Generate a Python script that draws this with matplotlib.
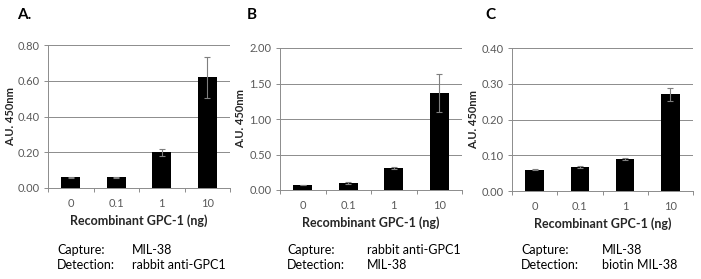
import matplotlib
matplotlib.use("Agg")
import matplotlib.pyplot as plt

plt.rcParams['font.family'] = ['Lato', 'DejaVu Sans']

doses = ["0", "0.1", "1", "10"]

vals_a = [0.06, 0.06, 0.20, 0.62]
err_a = [0.002, 0.003, 0.02, 0.115]
vals_b = [0.07, 0.10, 0.31, 1.37]
err_b = [0.005, 0.01, 0.02, 0.27]
vals_c = [0.06, 0.068, 0.09, 0.27]
err_c = [0.001, 0.003, 0.002, 0.018]

panels = [
    ("A.", vals_a, err_a, 0.80, 0.20, "MIL-38", "rabbit anti-GPC1"),
    ("B", vals_b, err_b, 2.00, 0.50, "rabbit anti-GPC1", "MIL-38"),
    ("C", vals_c, err_c, 0.40, 0.10, "MIL-38", "biotin MIL-38"),
]

# axes boxes in pixels: left, right, top, bottom
boxes = [(48, 230, 45, 188), (280, 462, 48, 190), (512, 693, 48, 191)]
ylab_x = [11, 241, 474]
letter_x = [17, 247, 485]
cap_x = [(57, 132), (287, 367), (521, 602)]

W, H = 701, 279
fig = plt.figure(figsize=(W / 100, H / 100), dpi=100)

grid_c = "#8c8c8c"
text_c = "#595959"

for (letter, vals, errs, ymax, step, capture, detect), (l, r, t, b), yx, lx, (cx, vx) in zip(
        panels, boxes, ylab_x, letter_x, cap_x):
    ax = fig.add_axes([l / W, (H - b) / H, (r - l) / W, (b - t) / H])
    xs = range(len(doses))
    ax.bar(xs, vals, width=0.41, color="black", zorder=3)
    ax.errorbar(xs, vals, yerr=errs, fmt="none", ecolor="#7f7f7f",
                elinewidth=0.8, capsize=2.5, capthick=0.8, zorder=4)
    ax.set_xlim(-0.5, len(doses) - 0.5)
    ax.set_ylim(0, ymax)
    ticks = [i * step for i in range(int(round(ymax / step)) + 1)]
    ax.set_yticks(ticks)
    ax.set_yticklabels([f"{v:.2f}" for v in ticks])
    ax.yaxis.grid(True, color=grid_c, linewidth=0.7, zorder=0)
    ax.set_xticks(list(xs))
    ax.set_xticklabels(doses)
    ax.set_xticks([i - 0.5 for i in range(len(doses) + 1)], minor=True)
    ax.tick_params(axis="x", which="major", length=0, labelsize=8,
                   colors=text_c, pad=7)
    ax.tick_params(axis="x", which="minor", length=3, color=grid_c, width=0.7)
    ax.tick_params(axis="y", length=3, width=0.7, color=grid_c, labelsize=8,
                   labelcolor=text_c, pad=3)
    for s in ["top", "right"]:
        ax.spines[s].set_visible(False)
    ax.spines["left"].set_color(grid_c)
    ax.spines["bottom"].set_color(grid_c)
    ax.spines["left"].set_linewidth(0.7)
    ax.spines["bottom"].set_linewidth(0.7)
    ax.set_xlabel("Recombinant GPC-1 (ng)", fontsize=9, fontweight="bold",
                  color="#262626", labelpad=4)
    ax.set_ylabel("A.U. 450nm", fontsize=8, fontweight="bold",
                  color="#262626", va="center")
    ax.yaxis.set_label_coords((yx - l) / (r - l), 0.5)

    fig.text(lx / W, 1 - 15 / H, letter, fontsize=11, fontweight="bold",
             ha="left", va="center")
    fig.text(cx / W, 1 - 250 / H, "Capture:", fontsize=9, ha="left", va="center")
    fig.text(vx / W, 1 - 250 / H, capture, fontsize=9, ha="left", va="center")
    fig.text(cx / W, 1 - 265 / H, "Detection:", fontsize=9, ha="left", va="center")
    fig.text(vx / W, 1 - 265 / H, detect, fontsize=9, ha="left", va="center")

fig.savefig("out.png", dpi=100)
